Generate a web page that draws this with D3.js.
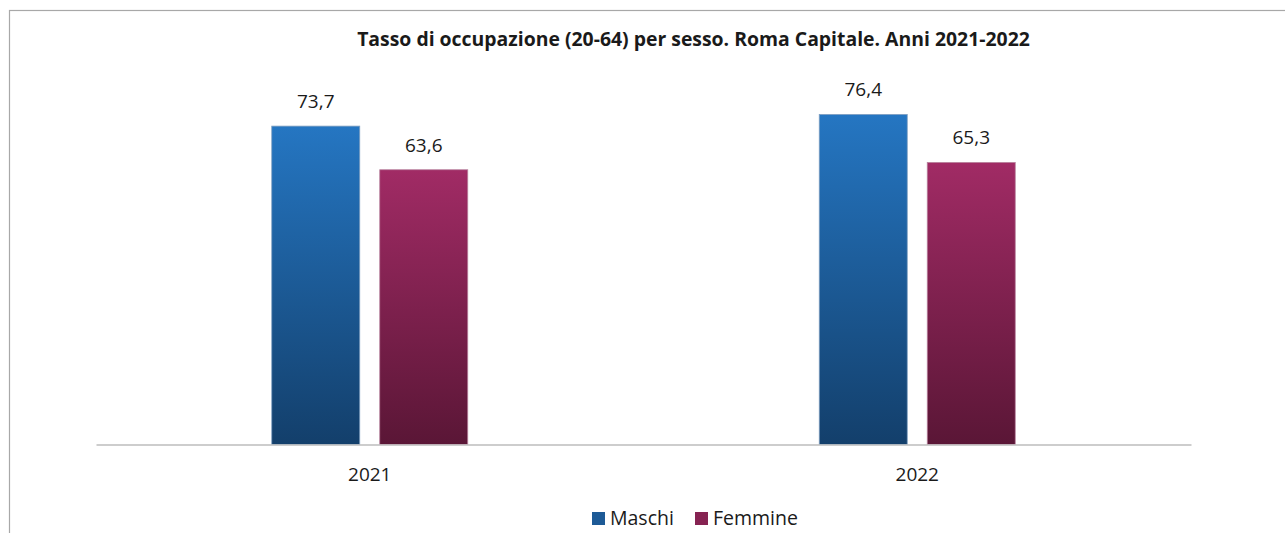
<!DOCTYPE html>
<html>
<head>
<meta charset="utf-8">
<script src="https://cdn.jsdelivr.net/npm/d3@7"></script>
<style>
  html, body { margin: 0; padding: 0; background: #ffffff; }
  svg { display: block; }
  text { font-family: "Open Sans", "Noto Sans", sans-serif; fill: #1a1a1a; }
</style>
</head>
<body>
<svg id="chart" width="1285" height="533"></svg>
<script>
// Employment rate (20-64) by sex, Roma Capitale
const years = ["2021", "2022"];
const series = ["Maschi", "Femmine"];
const maschi = [73.7, 76.4];
const femmine = [63.6, 65.3];
const title = "Tasso di occupazione (20-64) per sesso. Roma Capitale. Anni 2021-2022";

const seriesValues = { Maschi: maschi, Femmine: femmine };
const gradients = {
  Maschi: { top: "#2576c2", bottom: "#133f6b", stroke: "#7f9fc0" },
  Femmine: { top: "#a12b65", bottom: "#5a1636", stroke: "#b8829d" }
};

const svg = d3.select("#chart");

// outer chart frame (extends past the right and bottom edges)
svg.append("rect")
  .attr("x", 9.5).attr("y", 10.5)
  .attr("width", 1320).attr("height", 600)
  .attr("fill", "#ffffff")
  .attr("stroke", "#a8a8a8").attr("stroke-width", 1.2);

const defs = svg.append("defs");
series.forEach((s, i) => {
  const g = defs.append("linearGradient")
    .attr("id", "grad" + i)
    .attr("x1", 0).attr("y1", 0).attr("x2", 0).attr("y2", 1);
  g.append("stop").attr("offset", "0%").attr("stop-color", gradients[s].top);
  g.append("stop").attr("offset", "100%").attr("stop-color", gradients[s].bottom);
});

const plot = { left: 96, right: 1191, top: 55.7, bottom: 444.5 };

const x0 = d3.scaleBand().domain(years).range([plot.left, plot.right]).padding(0);
const x1 = d3.scaleBand().domain(series).range([-98, 98]).paddingInner(20 / 108).paddingOuter(0);
const y = d3.scaleLinear().domain([0, 90]).range([plot.bottom, plot.top]);

// title
svg.append("text")
  .attr("x", 693.5).attr("y", 46)
  .attr("text-anchor", "middle")
  .attr("font-weight", "bold")
  .attr("font-size", 19.4)
  .text(title);

// bars
const groups = svg.append("g").selectAll("g")
  .data(years)
  .join("g")
  .attr("transform", d => `translate(${x0(d) + x0.bandwidth() / 2},0)`);

groups.selectAll("rect")
  .data((yr, yi) => series.map((s, si) => ({ s, si, v: seriesValues[s][yi] })))
  .join("rect")
  .attr("x", d => x1(d.s))
  .attr("y", d => y(d.v))
  .attr("width", x1.bandwidth())
  .attr("height", d => y(0) - y(d.v))
  .attr("fill", d => `url(#grad${d.si})`)
  .attr("stroke", d => gradients[d.s].stroke)
  .attr("stroke-width", 0.8);

// value labels
groups.selectAll("text.val")
  .data((yr, yi) => series.map(s => ({ s, v: seriesValues[s][yi] })))
  .join("text")
  .attr("class", "val")
  .attr("x", d => x1(d.s) + x1.bandwidth() / 2)
  .attr("y", d => y(d.v) - 18)
  .attr("text-anchor", "middle")
  .attr("font-size", 19)
  .text(d => d3.format(".1f")(d.v).replace(".", ","));

// category axis
const xAxis = svg.append("g")
  .attr("transform", `translate(0,${plot.bottom})`)
  .call(d3.axisBottom(x0).tickSize(0).tickPadding(23));
xAxis.select(".domain").attr("stroke", "#bdbdbd").attr("stroke-width", 1.5);
xAxis.selectAll("text")
  .attr("font-size", 19)
  .attr("font-family", "'Open Sans', 'Noto Sans', sans-serif")
  .attr("fill", "#1a1a1a");

// legend
const legendItems = [
  { s: "Maschi", x: 592, color: "#1d5a96" },
  { s: "Femmine", x: 695, color: "#862352" }
];
const legend = svg.append("g");
legendItems.forEach(it => {
  legend.append("rect")
    .attr("x", it.x).attr("y", 512)
    .attr("width", 13).attr("height", 13)
    .attr("fill", it.color);
  legend.append("text")
    .attr("x", it.x + 18).attr("y", 525)
    .attr("font-size", 19.5)
    .text(it.s);
});
</script>
</body>
</html>
